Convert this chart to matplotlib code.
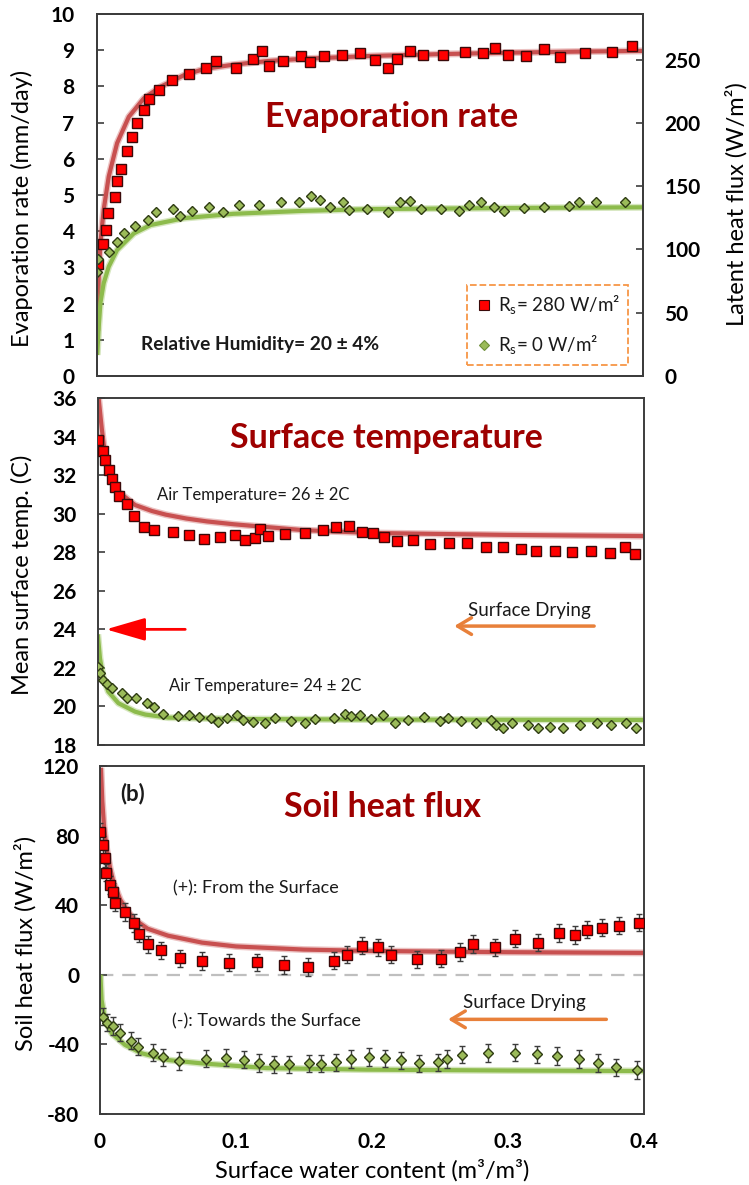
import matplotlib
matplotlib.use("Agg")
import matplotlib.pyplot as plt
from matplotlib.lines import Line2D

plt.rcParams['font.family'] = ['Lato', 'DejaVu Sans']
plt.rcParams['mathtext.fontset'] = 'custom'
plt.rcParams['mathtext.rm'] = 'Lato'
plt.rcParams['mathtext.bf'] = 'Lato:bold'
plt.rcParams['axes.unicode_minus'] = False

# ---- evaporation rate (mm/day) ----
evap_hot_x = [0.0007, 0.0046, 0.0068, 0.0081, 0.0132, 0.0145, 0.0181, 0.022, 0.0257, 0.0296,
              0.0343, 0.038, 0.0455, 0.055, 0.0678, 0.080, 0.0874, 0.102, 0.1143, 0.1209,
              0.126, 0.136, 0.1495, 0.1563, 0.166, 0.1793, 0.1923, 0.2038, 0.2131, 0.2197,
              0.229, 0.2388, 0.2535, 0.2694, 0.2829, 0.2914, 0.3012, 0.3142, 0.3269, 0.3391,
              0.3575, 0.3771, 0.3917]
evap_hot_y = [3.09, 3.64, 4.03, 4.51, 4.95, 5.40, 5.73, 6.22, 6.61, 7.00,
              7.36, 7.64, 7.89, 8.18, 8.35, 8.50, 8.69, 8.52, 8.77, 8.99,
              8.55, 8.69, 8.84, 8.67, 8.84, 8.88, 8.93, 8.73, 8.50, 8.77,
              8.99, 8.87, 8.87, 8.94, 8.93, 9.05, 8.87, 8.85, 9.02, 8.80,
              8.93, 8.94, 9.12]
evap_cold_x = [0.0, 0.0007, 0.0093, 0.0149, 0.0203, 0.0281, 0.0377, 0.0431, 0.0556, 0.0607,
               0.0695, 0.0822, 0.0927, 0.1042, 0.1191, 0.1345, 0.1483, 0.1571, 0.1637, 0.1708,
               0.180, 0.1847, 0.198, 0.2131, 0.2217, 0.2295, 0.2369, 0.2516, 0.2652, 0.2726,
               0.2809, 0.2907, 0.2983, 0.3129, 0.3274, 0.3452, 0.3526, 0.3655, 0.3863]
evap_cold_y = [2.88, 3.23, 3.42, 3.70, 3.96, 4.14, 4.32, 4.52, 4.62, 4.43,
               4.55, 4.66, 4.52, 4.73, 4.73, 4.82, 4.81, 4.98, 4.86, 4.66,
               4.82, 4.59, 4.62, 4.54, 4.80, 4.83, 4.61, 4.61, 4.57, 4.72,
               4.82, 4.66, 4.55, 4.63, 4.67, 4.70, 4.80, 4.80, 4.81]
evap_fit_hot_x = [0.0004, 0.0015, 0.0027, 0.0051, 0.0088, 0.0149, 0.0235, 0.0345, 0.0467, 0.0639,
                  0.0785, 0.1, 0.125, 0.15, 0.2, 0.25, 0.3, 0.35, 0.4]
evap_fit_hot_y = [1.25, 2.74, 3.67, 4.59, 5.51, 6.43, 7.16, 7.67, 7.99, 8.31,
                  8.48, 8.60, 8.70, 8.76, 8.84, 8.89, 8.93, 8.96, 8.98]
evap_fit_cold_x = [0.0004, 0.0015, 0.0027, 0.0051, 0.0088, 0.0149, 0.0272, 0.0394, 0.0639, 0.1,
                   0.15, 0.2, 0.3, 0.4]
evap_fit_cold_y = [0.58, 1.36, 2.01, 2.56, 3.02, 3.48, 3.94, 4.17, 4.36, 4.48,
                   4.56, 4.61, 4.64, 4.66]

# ---- mean surface temperature (C) ----
temp_hot_x = [0.0, 0.0037, 0.0057, 0.0084, 0.0108, 0.0128, 0.0155, 0.0214, 0.027, 0.0339,
              0.0417, 0.0556, 0.0669, 0.0781, 0.0896, 0.1004, 0.1077, 0.1153, 0.1192, 0.1249,
              0.1373, 0.1518, 0.1647, 0.1748, 0.184, 0.1936, 0.2015, 0.2096, 0.2194, 0.2309,
              0.2434, 0.2573, 0.2706, 0.2845, 0.2968, 0.3097, 0.3212, 0.3347, 0.3474, 0.3613,
              0.3753, 0.3858, 0.3937]
temp_hot_y = [33.82, 33.25, 32.78, 32.27, 31.78, 31.37, 30.93, 30.50, 29.88, 29.31,
              29.15, 29.03, 28.88, 28.67, 28.81, 28.89, 28.65, 28.74, 29.20, 28.84,
              28.95, 28.98, 29.14, 29.29, 29.34, 29.07, 29.01, 28.81, 28.58, 28.63,
              28.41, 28.48, 28.48, 28.27, 28.27, 28.15, 28.05, 28.05, 28.03, 28.08,
              27.96, 28.25, 27.92]
temp_cold_x = [0.0006, 0.0018, 0.0037, 0.0066, 0.0103, 0.0176, 0.0213, 0.0281, 0.036, 0.0413,
               0.0481, 0.0591, 0.0670, 0.0743, 0.0829, 0.088, 0.0946, 0.102, 0.1064, 0.1135,
               0.1223, 0.1296, 0.1419, 0.1522, 0.159, 0.173, 0.1811, 0.1853, 0.1921, 0.2, 0.2086,
               0.2176, 0.2274, 0.2387, 0.2507, 0.2568, 0.2661, 0.2774, 0.2881, 0.2917, 0.2971,
               0.3033, 0.315, 0.3224, 0.3314, 0.3407, 0.3534, 0.3659, 0.3757, 0.3867, 0.394]
temp_cold_y = [22.03, 21.72, 21.37, 21.17, 20.94, 20.72, 20.42, 20.42, 20.20, 19.99,
               19.59, 19.51, 19.56, 19.47, 19.39, 19.21, 19.39, 19.56, 19.30, 19.21,
               19.16, 19.39, 19.26, 19.16, 19.35, 19.39, 19.61, 19.52, 19.56, 19.35, 19.56,
               19.13, 19.30, 19.44, 19.25, 19.42, 19.26, 19.13, 19.30, 19.04, 18.87,
               19.13, 19.04, 18.90, 18.95, 18.87, 19.04, 19.13, 19.04, 19.13, 18.90]
temp_fit_hot_x = [0.0008, 0.0031, 0.0055, 0.0104, 0.0153, 0.0275, 0.0398, 0.05, 0.065, 0.08,
                  0.1, 0.125, 0.15, 0.2, 0.3, 0.4]
temp_fit_hot_y = [36.0, 34.43, 33.04, 31.84, 31.14, 30.45, 30.14, 29.95, 29.75, 29.6,
                  29.45, 29.3, 29.15, 29.0, 28.9, 28.84]
temp_fit_cold_x = [0.0002, 0.0018, 0.0043, 0.0079, 0.0153, 0.0275, 0.035, 0.052, 0.1, 0.2, 0.4]
temp_fit_cold_y = [23.74, 22.5, 21.46, 20.77, 20.17, 19.73, 19.58, 19.42, 19.35, 19.32, 19.30]

# ---- soil heat flux (W/m2) ----
soil_hot_x = [0.0, 0.002, 0.0039, 0.0044, 0.0074, 0.0098, 0.0113, 0.0186, 0.0252, 0.0287,
              0.0351, 0.0451, 0.0588, 0.0752, 0.0949, 0.1157, 0.135, 0.1529, 0.1718, 0.1813,
              0.1924, 0.2046, 0.2137, 0.2331, 0.2507, 0.2649, 0.2743, 0.2902, 0.3049, 0.322,
              0.3375, 0.349, 0.3579, 0.3694, 0.3819, 0.3966]
soil_hot_y = [82.2, 74.6, 67.0, 58.7, 51.6, 47.8, 41.4, 36.1, 29.8, 23.6,
              17.5, 14.1, 9.5, 7.9, 7.0, 7.2, 5.6, 4.5, 8.1, 11.6,
              16.7, 15.8, 11.6, 8.9, 9.3, 13.1, 17.7, 15.8, 20.8, 18.4,
              24.0, 22.9, 25.9, 27.1, 28.2, 29.9]
soil_cold_x = [0.002, 0.0054, 0.0098, 0.0147, 0.0228, 0.0282, 0.0387, 0.0461, 0.0579, 0.0777,
               0.0929, 0.1061, 0.1171, 0.1279, 0.139, 0.1534, 0.1627, 0.1733, 0.1843, 0.198,
               0.2096, 0.2213, 0.2348, 0.2488, 0.2554, 0.2664, 0.2851, 0.3054, 0.3211, 0.3363,
               0.3522, 0.3664, 0.3792, 0.3951]
soil_cold_y = [-24.1, -27.5, -29.4, -33.3, -37.9, -41.3, -44.8, -47.4, -49.5, -48.2,
               -47.6, -48.8, -50.7, -51.4, -51.4, -50.9, -51.1, -50.3, -48.4, -47.2,
               -48.0, -49.1, -50.9, -50.3, -48.4, -45.9, -44.9, -44.8, -45.7, -46.7,
               -48.4, -50.7, -53.2, -54.7]
soil_err = 5.0
soil_fit_hot_x = [0.0007, 0.0017, 0.003, 0.005, 0.0075, 0.01, 0.015, 0.02, 0.025, 0.035,
                  0.05, 0.075, 0.1, 0.15, 0.2, 0.3, 0.4]
soil_fit_hot_y = [119.0, 100.0, 85.0, 72.0, 61.0, 53.0, 43.0, 37.0, 32.0, 26.5,
                  22.5, 18.5, 16.3, 14.5, 13.7, 13.0, 12.6]
soil_fit_cold_x = [0.0003, 0.0012, 0.0037, 0.0086, 0.0184, 0.0307, 0.0502, 0.0748, 0.1225, 0.196,
                   0.3, 0.4]
soil_fit_cold_y = [0.0, -14.5, -26.0, -33.6, -40.3, -45.1, -49.0, -50.9, -53.6, -54.5,
                   -55.0, -55.3]

red_fill, red_edge = '#FF0000', '#3A0A0A'
green_fill, green_edge = '#9BBB59', '#2E3B12'
red_line, green_line = '#C85050', '#8DBB4C'
title_color = '#9E0000'
spine_color = '#3C3C3C'
ink = '#1A1A1A'
note = dict(ha='center', va='center', color=ink)


def fit_line(ax, x, y, color):
    ax.plot(x, y, color=color, lw=5.0, alpha=0.35, solid_capstyle='butt', zorder=2)
    ax.plot(x, y, color=color, lw=3.0, solid_capstyle='butt', zorder=2)


def style_axes(ax, ticks, pad):
    ax.set_xlim(0, 0.4)
    for s in ax.spines.values():
        s.set_color(spine_color)
        s.set_linewidth(1.4)
    ax.set_yticks(ticks)
    ax.tick_params(axis='y', direction='in', length=5, width=1.2, color=spine_color,
                   labelsize=15, pad=pad)
    for lab in ax.get_yticklabels():
        lab.set_fontweight('bold')
    ax.tick_params(axis='x', length=0)


fig = plt.figure(figsize=(7.49, 11.85), dpi=100)

# top: evaporation rate
ax1 = fig.add_axes([0.1291, 0.6827, 0.7300, 0.3055])
fit_line(ax1, evap_fit_hot_x, evap_fit_hot_y, red_line)
fit_line(ax1, evap_fit_cold_x, evap_fit_cold_y, green_line)
ax1.plot(evap_hot_x, evap_hot_y, 's', ms=7, mfc=red_fill, mec=red_edge, mew=1.0, zorder=3)
ax1.plot(evap_cold_x, evap_cold_y, 'D', ms=5.5, mfc=green_fill, mec=green_edge, mew=1.0, zorder=3)
ax1.set_ylim(0, 10)
style_axes(ax1, range(0, 11), 16)
ax1.set_xticklabels([])
ax1.set_ylabel('Evaporation rate (mm/day)', fontsize=17)
ax1.yaxis.set_label_coords(-0.117, 0.464)
ax1.text(0.216, 7.15, 'Evaporation rate', color=title_color, fontsize=24.5, fontweight='bold',
         ha='center', va='center')
ax1.text(0.1196, 0.86, 'Relative Humidity= 20 ± 4%', fontsize=13.8, fontweight='bold', **note)

ax1r = ax1.twinx()
ax1r.set_ylim(0, 286)
ax1r.set_yticks(range(0, 251, 50))
ax1r.tick_params(axis='y', direction='in', length=5, width=1.2, color=spine_color,
                 labelsize=15, pad=15)
for lab in ax1r.get_yticklabels():
    lab.set_fontweight('bold')
for s in ax1r.spines.values():
    s.set_color(spine_color)
    s.set_linewidth(1.4)
ax1r.set_ylabel('Latent heat flux (W/m²)', fontsize=17)
ax1r.yaxis.set_label_coords(1.149, 0.475)

handles = [Line2D([], [], ls='none', marker='s', ms=6.5, mfc=red_fill, mec=red_edge, mew=0.8),
           Line2D([], [], ls='none', marker='D', ms=5.5, mfc=green_fill, mec='#6F8F3A', mew=0.8)]
leg = ax1r.legend(handles, ['R$_\\mathregular{s}$= 280 W/m²', 'R$_\\mathregular{s}$= 0 W/m²'],
                  loc='lower right', bbox_to_anchor=(0.972, 0.03), fontsize=13.5,
                  fancybox=False, framealpha=1, labelspacing=0.9, handletextpad=0.3,
                  handlelength=0.9, borderpad=0.45, borderaxespad=0)
for t in leg.get_texts():
    t.set_color(ink)
frame = leg.get_frame()
frame.set_edgecolor('#F79646')
frame.set_linestyle('--')
frame.set_linewidth(1.3)

# middle: surface temperature
ax2 = fig.add_axes([0.1302, 0.3713, 0.7296, 0.2928])
fit_line(ax2, temp_fit_hot_x, temp_fit_hot_y, red_line)
fit_line(ax2, temp_fit_cold_x, temp_fit_cold_y, green_line)
ax2.plot(temp_hot_x, temp_hot_y, 's', ms=7, mfc=red_fill, mec=red_edge, mew=1.0, zorder=3)
ax2.plot(temp_cold_x, temp_cold_y, 'D', ms=5.5, mfc=green_fill, mec=green_edge, mew=1.0, zorder=3)
ax2.set_ylim(18, 36)
style_axes(ax2, range(18, 37, 2), 15)
ax2.set_xticklabels([])
ax2.set_ylabel('Mean surface temp. (C)', fontsize=17)
ax2.yaxis.set_label_coords(-0.118, 0.49)
ax2.text(0.2117, 33.93, 'Surface temperature', color=title_color, fontsize=24.5,
         fontweight='bold', ha='center', va='center')
ax2.text(0.114, 30.97, 'Air Temperature= 26 ± 2C', fontsize=12, **note)
ax2.text(0.123, 21.06, 'Air Temperature= 24 ± 2C', fontsize=12, **note)
ax2.annotate('', xy=(0.0062, 24), xytext=(0.0642, 24),
             arrowprops=dict(arrowstyle='-|>,head_length=1.1,head_width=0.32', color='#FF0000',
                             lw=2, mutation_scale=22, shrinkA=0, shrinkB=0))
ax2.text(0.316, 25.0, 'Surface Drying', fontsize=13.5, **note)
ax2.annotate('', xy=(0.2611, 24.17), xytext=(0.3635, 24.17),
             arrowprops=dict(arrowstyle='->,head_length=0.5,head_width=0.3', color='#E8803A',
                             lw=2.5, mutation_scale=20, shrinkA=0, shrinkB=0))

# bottom: soil heat flux
ax3 = fig.add_axes([0.1335, 0.0599, 0.7263, 0.2937])
ax3.axhline(0, color='#BFBFBF', lw=1.6, dashes=(6, 4), zorder=1)
fit_line(ax3, soil_fit_hot_x, soil_fit_hot_y, red_line)
fit_line(ax3, soil_fit_cold_x, soil_fit_cold_y, green_line)
ax3.errorbar(soil_hot_x, soil_hot_y, yerr=soil_err, fmt='s', ms=7, mfc=red_fill, mec=red_edge,
             mew=1.0, ecolor='#3C3C3C', elinewidth=1.0, capsize=2.5, capthick=1.0, zorder=3)
ax3.errorbar(soil_cold_x, soil_cold_y, yerr=soil_err, fmt='D', ms=5.5, mfc=green_fill,
             mec=green_edge, mew=1.0, ecolor='#3C3C3C', elinewidth=1.0, capsize=2.5,
             capthick=1.0, zorder=3)
ax3.set_ylim(-80, 120)
style_axes(ax3, range(-80, 121, 40), 15)
ax3.set_xticks([0, 0.1, 0.2, 0.3, 0.4])
ax3.set_xticklabels(['0', '0.1', '0.2', '0.3', '0.4'], fontweight='bold', fontsize=15)
ax3.tick_params(axis='x', pad=13)
ax3.set_ylabel('Soil heat flux (W/m²)', fontsize=17)
ax3.yaxis.set_label_coords(-0.116, 0.49)
ax3.set_xlabel('Surface water content (m³/m³)', fontsize=17)
ax3.xaxis.set_label_coords(0.5, -0.13)
ax3.text(0.024, 104.3, '(b)', fontsize=16, fontweight='bold', ha='center', va='center',
         color=ink)
ax3.text(0.2074, 96.4, 'Soil heat flux', color=title_color, fontsize=24.5, fontweight='bold',
         ha='center', va='center')
ax3.text(0.1147, 49.7, '(+): From the Surface', fontsize=13, **note)
ax3.text(0.1225, -27.0, '(-): Towards the Surface', fontsize=13, **note)
ax3.text(0.3118, -15.8, 'Surface Drying', fontsize=13.5, **note)
ax3.annotate('', xy=(0.2559, -25.6), xytext=(0.3723, -25.6),
             arrowprops=dict(arrowstyle='->,head_length=0.5,head_width=0.3', color='#E8803A',
                             lw=2.5, mutation_scale=20, shrinkA=0, shrinkB=0))

fig.savefig('out.png', dpi=100)
